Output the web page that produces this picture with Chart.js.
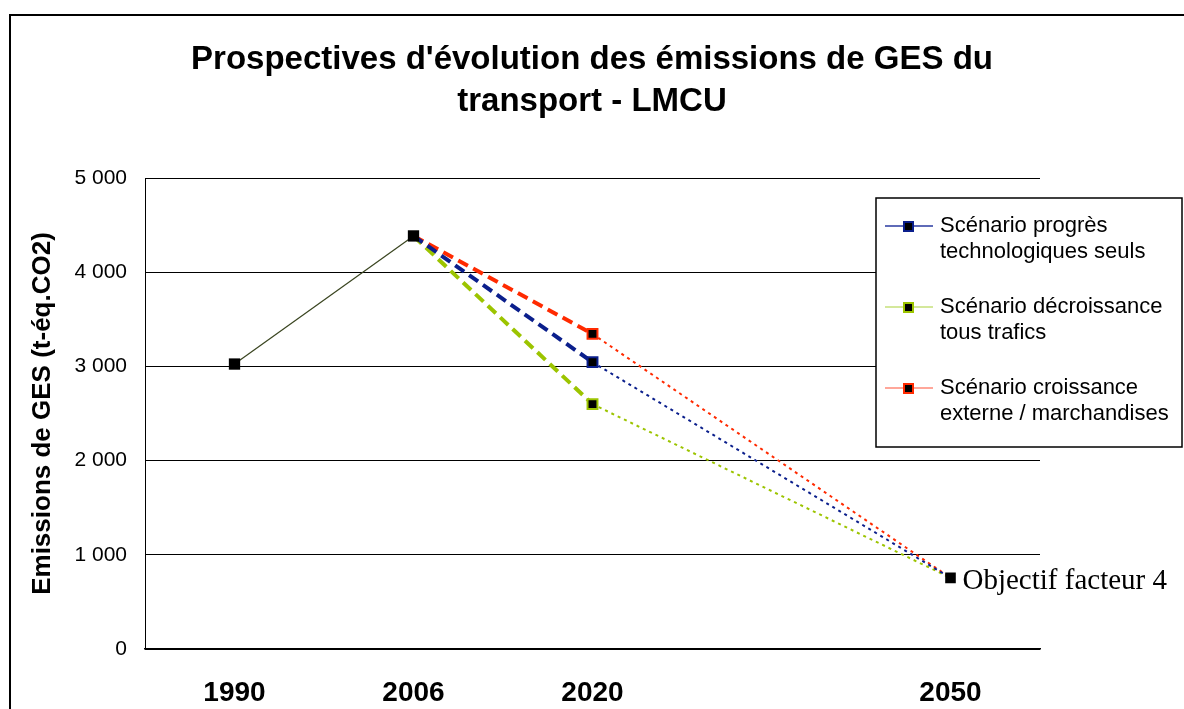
<!DOCTYPE html>
<html lang="fr">
<head>
<meta charset="utf-8">
<title>Prospectives GES transport - LMCU</title>
<script src="https://cdn.jsdelivr.net/npm/chart.js@4/dist/chart.umd.min.js"></script>
<style>
    html, body { margin: 0; padding: 0; background: #fff; }
    #wrap { width: 1184px; height: 709px; position: relative; }
</style>
</head>
<body>
<div id="wrap"><canvas id="chart-ges"></canvas></div>
<script>
// Années (une colonne vide entre 2020 et 2050 pour l'espacement)
const annees = ['1990', '2006', '2020', '', '2050'];

// Emissions (t-éq.CO2)
const historique = [3025, 4385, null, null, null];
const objectifF4 = [null, null, null, null, 755];
const progresTechno = [null, 4385, 3045, null, 755];
const decroissance = [null, 4385, 2600, null, 755];
const croissanceExt = [null, 4385, 3345, null, 755];

const titreLignes = ["Prospectives d'évolution des émissions de GES du", 'transport - LMCU'];
const legendeScenarios = [
    { lignes: ['Scénario progrès', 'technologiques seuls'], couleur: '#0b1f8c', trait: '#2a3aa0' },
    { lignes: ['Scénario décroissance', 'tous trafics'], couleur: '#9cc400', trait: '#c6e07a' },
    { lignes: ['Scénario croissance', 'externe / marchandises'], couleur: '#ff2a00', trait: '#ff8a78' },
];

const SANS = "'Liberation Sans', Arial, sans-serif";
const SERIF = "'Liberation Serif', 'Times New Roman', serif";

// 2006 -> 2020 en tirets épais, 2020 -> 2050 en pointillés fins
const segmentScenario = {
    borderDash: c => c.p0DataIndex < 2 ? [11, 6] : [3, 4],
    borderWidth: c => c.p0DataIndex < 2 ? 4 : 2,
};

function scenario(label, data, couleur) {
    return {
        label, data, borderColor: couleur, backgroundColor: '#000',
        pointStyle: 'rect', pointRadius: [0, 0, 7, 0, 0], pointBorderWidth: 2,
        pointBorderColor: couleur, pointBackgroundColor: '#000',
        spanGaps: true, segment: segmentScenario, borderWidth: 2,
    };
}

function fmtMilliers(v) {
    return String(v).replace(/\B(?=(\d{3})+(?!\d))/g, ' ');
}

const decor = {
    id: 'decor',
    beforeDraw(chart) {
        const ctx = chart.ctx;
        ctx.save();
        ctx.fillStyle = '#fff';
        ctx.fillRect(0, 0, chart.width, chart.height);
        // cadre
        ctx.strokeStyle = '#000';
        ctx.lineWidth = 2;
        ctx.strokeRect(10, 15, 1300, 900);
        ctx.restore();
    },
    afterDraw(chart) {
        const ctx = chart.ctx;
        ctx.save();

        // titre
        ctx.fillStyle = '#000';
        ctx.textAlign = 'center';
        ctx.textBaseline = 'middle';
        ctx.font = 'bold 33px ' + SANS;
        titreLignes.forEach((t, i) => ctx.fillText(t, 592, 60 + i * 42));

        // légende encadrée
        ctx.fillStyle = '#fff';
        ctx.fillRect(876, 198, 306, 249);
        ctx.strokeStyle = '#000';
        ctx.lineWidth = 1.5;
        ctx.strokeRect(876, 198, 306, 249);
        ctx.font = '22px ' + SANS;
        ctx.textAlign = 'left';
        legendeScenarios.forEach((item, i) => {
            const y = 226 + i * 81;
            ctx.strokeStyle = item.trait;
            ctx.lineWidth = 1.5;
            ctx.beginPath();
            ctx.moveTo(885, y);
            ctx.lineTo(933, y);
            ctx.stroke();
            ctx.fillStyle = '#000';
            ctx.fillRect(904, y - 4, 9, 9);
            ctx.strokeStyle = item.couleur;
            ctx.lineWidth = 2;
            ctx.strokeRect(904, y - 4, 9, 9);
            ctx.fillStyle = '#000';
            item.lignes.forEach((l, k) => ctx.fillText(l, 940, y + k * 26));
        });

        // étiquette du point 2050
        const pt = chart.getDatasetMeta(1).data[4];
        ctx.font = '29px ' + SERIF;
        ctx.textBaseline = 'middle';
        ctx.fillText('Objectif facteur 4', pt.x + 12, pt.y + 4);
        ctx.restore();
    }
};

new Chart(document.getElementById('chart-ges'), {
    type: 'line',
    data: {
        labels: annees,
        datasets: [
            {
                label: 'Historique', data: historique, borderColor: '#3a4520', borderWidth: 1.2,
                pointStyle: 'rect', pointRadius: 8, pointBackgroundColor: '#000', pointBorderWidth: 0,
            },
            {
                label: 'Objectif facteur 4', data: objectifF4, borderColor: '#000',
                pointStyle: 'rect', pointRadius: 7.5, pointBackgroundColor: '#000', pointBorderWidth: 0,
            },
            scenario(legendeScenarios[0].lignes.join(' '), progresTechno, legendeScenarios[0].couleur),
            scenario(legendeScenarios[1].lignes.join(' '), decroissance, legendeScenarios[1].couleur),
            scenario(legendeScenarios[2].lignes.join(' '), croissanceExt, legendeScenarios[2].couleur),
        ]
    },
    options: {
        responsive: true,
        maintainAspectRatio: false,
        animation: false,
        layout: { padding: { top: 178, left: 20, right: 144, bottom: 0 } },
        plugins: { legend: { display: false }, tooltip: { enabled: false }, title: { display: false } },
        scales: {
            x: {
                type: 'category',
                offset: true,
                grid: { display: false },
                border: { display: true, color: '#000', width: 1.5 },
                ticks: { color: '#000', font: { family: SANS, size: 28, weight: 'bold' }, padding: 19, autoSkip: false, maxRotation: 0 },
                afterFit: s => { s.height = 60; },
            },
            y: {
                min: 0, max: 5000,
                grid: { color: '#000', lineWidth: 1, drawTicks: false },
                border: { display: true, color: '#000', width: 1 },
                ticks: { stepSize: 1000, color: '#000', font: { family: SANS, size: 21 }, padding: 18, callback: v => fmtMilliers(v) },
                title: { display: true, text: 'Emissions de GES (t-éq.CO2)', color: '#000', font: { family: SANS, size: 26, weight: 'bold' }, padding: { top: 7, bottom: 0 } },
                afterFit: s => { s.width = 125; },
            }
        }
    },
    plugins: [decor]
});
</script>
</body>
</html>
